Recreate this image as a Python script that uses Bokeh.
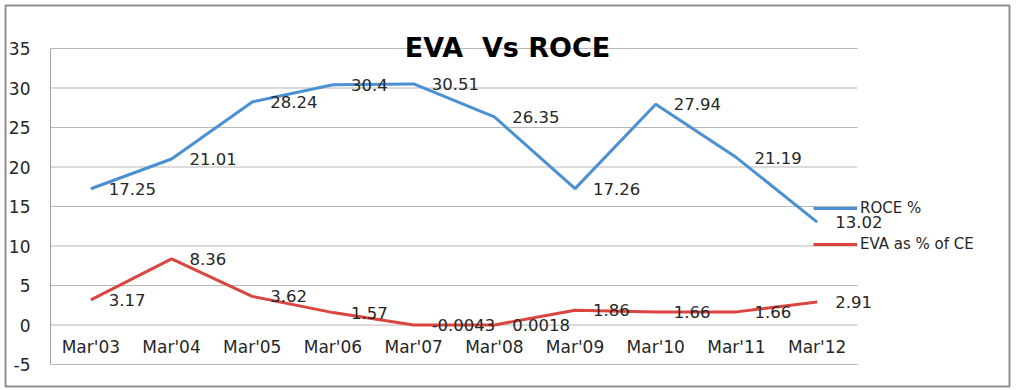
from bokeh.plotting import figure
from bokeh.models import ColumnDataSource, Range1d, Label, Legend, LegendItem
from bokeh.core.properties import value
from bokeh.embed import file_html
from bokeh.resources import INLINE

categories = ["Mar'03", "Mar'04", "Mar'05", "Mar'06", "Mar'07",
              "Mar'08", "Mar'09", "Mar'10", "Mar'11", "Mar'12"]
roce = [17.25, 21.01, 28.24, 30.4, 30.51, 26.35, 17.26, 27.94, 21.19, 13.02]
eva = [3.17, 8.36, 3.62, 1.57, -0.0043, 0.0018, 1.86, 1.66, 1.66, 2.91]
y_ticks = [-5, 0, 5, 10, 15, 20, 25, 30, 35]
title_text = "EVA\u00a0 Vs ROCE"

BLUE = "#4A90D2"
RED = "#DA4540"
TXT = "#262626"
FONT_NAME = "DejaVu Sans"
FONT = value(FONT_NAME)

# ---- layout (canvas pixels) ----
W, H = 1014, 388
FRAME_L, FRAME_R, FRAME_T, FRAME_B = 5, 1009, 5, 386   # outer border box
PLOT_L, PLOT_R = 50, 857      # plot area left/right
PLOT_T, PLOT_B = 48, 364      # plot area top/bottom
n = len(categories)
ymin, ymax = y_ticks[0], y_ticks[-1]
slot = (PLOT_R - PLOT_L) / n
ppu = (PLOT_B - PLOT_T) / (ymax - ymin)
x_lo, x_hi = -0.5, n - 0.5
x_start = x_lo - (PLOT_L - FRAME_L) / slot
x_end = x_hi + (FRAME_R - PLOT_R) / slot
y_end = ymax + (PLOT_T - FRAME_T) / ppu
y_start = ymin - (FRAME_B - PLOT_B) / ppu

p = figure(width=W, height=H, output_backend="svg", toolbar_location=None,
           x_range=Range1d(x_start, x_end), y_range=Range1d(y_start, y_end),
           min_border_left=FRAME_L, min_border_right=W - FRAME_R,
           min_border_top=FRAME_T, min_border_bottom=H - FRAME_B)
p.axis.visible = False
p.grid.visible = False
p.outline_line_color = "#8f8f8f"
p.outline_line_width = 2
p.background_fill_color = "white"
p.border_fill_color = "white"

xs = list(range(n))

# horizontal gridlines and vertical axis line
p.segment(x0=[x_lo] * len(y_ticks), x1=[x_hi] * len(y_ticks), y0=y_ticks, y1=y_ticks,
          line_color="#b8b8b8", line_width=1)
p.segment(x0=[x_lo], x1=[x_lo], y0=[ymin], y1=[ymax], line_color="#a0a0a0", line_width=1)

# y tick labels
p.text(x=[x_lo] * len(y_ticks), y=y_ticks, text=[str(t) for t in y_ticks],
       x_offset=-20, text_align="right", text_baseline="middle",
       text_font=FONT, text_font_size="17px", text_color=TXT)

src = ColumnDataSource(dict(x=xs, cat=categories, roce=roce, eva=eva,
                            roce_lbl=[str(v) for v in roce],
                            eva_lbl=[str(v) for v in eva],
                            zero=[0] * n))

r1 = p.line("x", "roce", source=src, line_color=BLUE, line_width=3)
r2 = p.line("x", "eva", source=src, line_color=RED, line_width=3)

p.text("x", "roce", text="roce_lbl", source=src, x_offset=18,
       text_align="left", text_baseline="middle", text_font=FONT,
       text_font_size="16.5px", text_color=TXT)
p.text("x", "eva", text="eva_lbl", source=src, x_offset=18,
       text_align="left", text_baseline="middle", text_font=FONT,
       text_font_size="16.5px", text_color=TXT)

# category labels just under the zero line
p.text("x", "zero", text="cat", source=src, y_offset=22,
       text_align="center", text_baseline="middle", text_font=FONT,
       text_font_size="17px", text_color=TXT)

# title centred on the whole chart box
title = Label(x=(x_start + x_end) / 2, y=ymax, y_offset=1, text=title_text,
              text_font=FONT_NAME, text_font_style="bold", text_font_size="27px",
              text_align="center", text_baseline="alphabetic", text_color="black")
p.add_layout(title)

legend = Legend(items=[LegendItem(label="ROCE %", renderers=[r1]),
                       LegendItem(label="EVA as % of CE", renderers=[r2])],
                location=(PLOT_R - 44 - FRAME_L, FRAME_B - 254), padding=0, margin=0,
                border_line_color=None, background_fill_alpha=0,
                glyph_width=44, glyph_height=20, label_height=20,
                label_standoff=3, spacing=16,
                label_text_font=FONT_NAME, label_text_font_size="15px",
                label_text_color=TXT)
p.add_layout(legend, "center")

open("out.html", "w").write(file_html(p, INLINE))
